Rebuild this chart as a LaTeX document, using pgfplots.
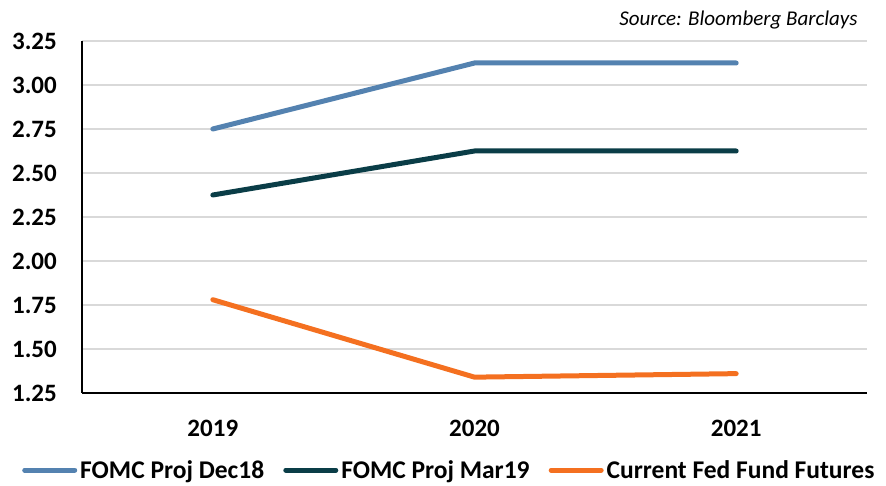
\documentclass[border=0pt]{standalone}
\usepackage{fontspec}
\setmainfont{Carlito}
\usepackage{pgfplots}
\pgfplotsset{compat=1.18}
\definecolor{cDec}{HTML}{5482B0}
\definecolor{cMar}{HTML}{0A3D47}
\definecolor{cFut}{HTML}{F47020}
\definecolor{cGrid}{HTML}{D9D9D9}
\begin{document}
\begin{tikzpicture}[x=1pt,y=1pt]
\path[use as bounding box] (0,0) rectangle (886,486);
\begin{axis}[
  at={(82pt,93pt)}, anchor=south west,
  width=785pt, height=352pt, scale only axis,
  xmin=0, xmax=3, ymin=1.25, ymax=3.25,
  xtick={0.5,1.5,2.5}, xticklabels={2019,2020,2021},
  ytick={1.25,1.5,1.75,2,2.25,2.5,2.75,3,3.25},
  /pgf/number format/.cd, fixed, fixed zerofill, precision=2, assume math mode=true,
  /pgfplots/.cd,
  axis lines*=left,
  axis line style={black, line width=1.5pt},
  ymajorgrids, grid style={cGrid, line width=1.5pt},
  major tick length=0pt,
  tick label style={font=\fontsize{25}{29}\selectfont\bfseries},
  yticklabel style={anchor=east, inner sep=0pt, xshift=-25pt},
  xticklabel style={anchor=base, inner sep=0pt, yshift=-44pt},
  legend columns=3,
  legend style={draw=none, fill=none, at={(axis description cs:-0.0764,-0.219)}, anchor=west,
    font=\fontsize{25.5}{29}\selectfont\bfseries, inner sep=0pt,
    nodes={inner sep=3pt},
    /tikz/every even column/.append style={column sep=16pt}},
  legend image code/.code={\draw[#1, line width=5pt, line cap=round] (0pt,0pt) -- (50pt,0pt);},
]
\addplot[cDec, line width=5pt, line cap=round, mark=none] coordinates {(0.5,2.75) (1.5,3.125) (2.5,3.125)};
\addlegendentry{FOMC Proj Dec18}
\addplot[cMar, line width=5pt, line cap=round, mark=none] coordinates {(0.5,2.375) (1.5,2.625) (2.5,2.625)};
\addlegendentry{FOMC Proj Mar19}
\addplot[cFut, line width=5pt, line cap=round, mark=none] coordinates {(0.5,1.78) (1.5,1.34) (2.5,1.36)};
\addlegendentry{Current Fed Fund Futures}
\end{axis}
\node[anchor=base east, font=\fontsize{21}{25}\selectfont\itshape] at (861,460) {Source: Bloomberg Barclays};
\end{tikzpicture}
\end{document}
